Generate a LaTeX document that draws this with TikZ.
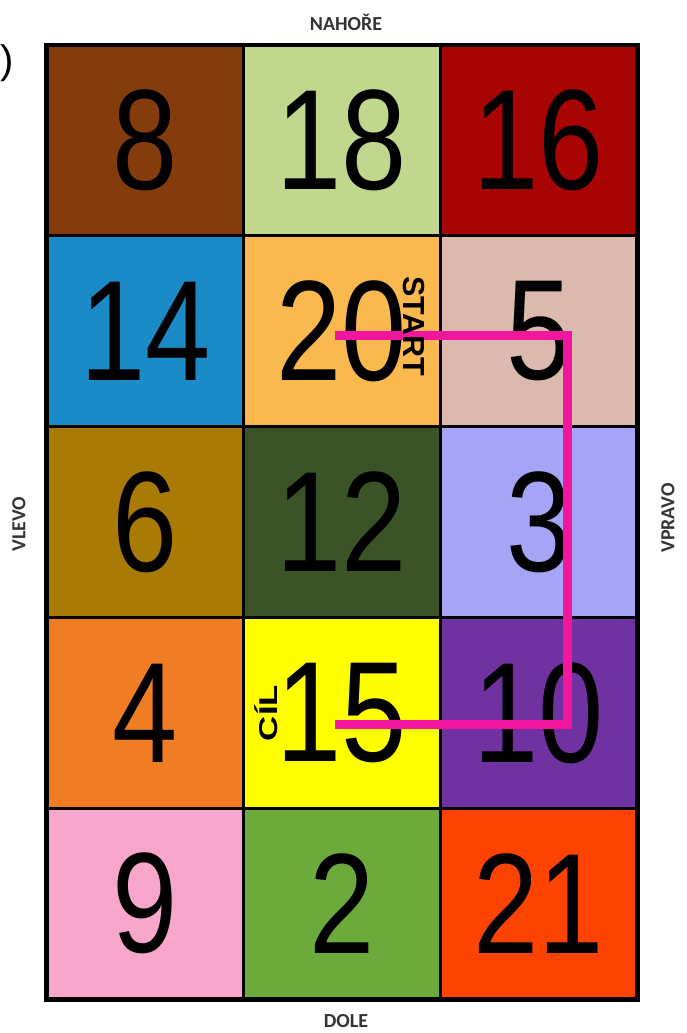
\documentclass[tikz,border=0pt]{standalone}
\usepackage{fontspec}
\setmainfont{Liberation Sans}
\newfontfamily\sidefont{Carlito}
\usepackage{graphicx}
\usepackage{tikz}
\usetikzlibrary{positioning}
\definecolor{Rust}{HTML}{843C0C}
\definecolor{Lime}{HTML}{C1D78E}
\definecolor{Wine}{HTML}{A80404}
\definecolor{Sky}{HTML}{1A8BC6}
\definecolor{Apricot}{HTML}{F9B94F}
\definecolor{Rose}{HTML}{DBB9AF}
\definecolor{Ochre}{HTML}{A97A04}
\definecolor{Forest}{HTML}{3A5427}
\definecolor{Lilac}{HTML}{A5A4F6}
\definecolor{Tangerine}{HTML}{F07D24}
\definecolor{Lemon}{HTML}{FFFF00}
\definecolor{Plum}{HTML}{7032A0}
\definecolor{Blush}{HTML}{F8A6CA}
\definecolor{Grass}{HTML}{6DAA3C}
\definecolor{Flame}{HTML}{FC4400}
\definecolor{Route}{HTML}{F2169E}
\tikzset{
 field/.style={draw=black,line width=2.6pt,outer sep=0pt,inner sep=0pt,
   minimum width=5.901cm,minimum height=5.724cm,font=\fontsize{122}{122}\selectfont},
 side/.style={font=\sidefont\bfseries\fontsize{17}{17}\selectfont,text=black!80,inner sep=0pt},
 tag/.style={font=\bfseries\fontsize{26}{26}\selectfont,inner sep=0pt},
 route/.style={draw=Route,line width=7.6pt,line join=miter}
}
\newcommand\digits[1]{\scalebox{0.82}[1]{#1}}
\begin{document}
\begin{tikzpicture}[x=0.03cm,y=-0.03cm]
\fill[white] (0,0) rectangle (686,1033);
\useasboundingbox (0,0) rectangle (686,1033);
\node[field,fill=Rust] (c8) at (145.3,140.4) {\digits{8}};
\node[field,fill=Lime,right=0pt of c8] (c18) {\digits{18}};
\node[field,fill=Wine,right=0pt of c18] (c16) {\digits{16}};
\node[field,fill=Sky,below=0pt of c8] (c14) {\digits{14}};
\node[field,fill=Apricot,below=0pt of c18] (c20) {\digits{20}};
\node[field,fill=Rose,below=0pt of c16] (c5) {\digits{5}};
\node[field,fill=Ochre,below=0pt of c14] (c6) {\digits{6}};
\node[field,fill=Forest,below=0pt of c20] (c12) {\digits{12}};
\node[field,fill=Lilac,below=0pt of c5] (c3) {\digits{3}};
\node[field,fill=Tangerine,below=0pt of c6] (c4) {\digits{4}};
\node[field,fill=Lemon,below=0pt of c12] (c15) {\digits{15}};
\node[field,fill=Plum,below=0pt of c3] (c10) {\digits{10}};
\node[field,fill=Blush,below=0pt of c4] (c9) {\digits{9}};
\node[field,fill=Grass,below=0pt of c15] (c2) {\digits{2}};
\node[field,fill=Flame,below=0pt of c10] (c21) {\digits{21}};
\draw[line width=4.2pt] (c8.north west) rectangle (c21.south east);
% path from start to goal
\draw[route] ([shift={(-7,4)}]c20.center) -| ([shift={(29,12)}]c10.center)
  -- ([shift={(-7,12)}]c15.center);
\node[tag,rotate=-90] (start) at (414,326) {START};
\node[tag,rotate=90,font=\bfseries\fontsize{22}{22}\selectfont] (goal) at (266,713) {\scalebox{1.35}[1]{CÍL}};
% sides
\node[side] (top) at (346,22) {NAHOŘE};
\node[side] (bottom) at (346,1021) {DOLE};
\node[side,rotate=90] (left) at (19,524) {VLEVO};
\node[side,rotate=90] (right) at (668,518) {VPRAVO};
\node[font=\fontsize{34}{34}\selectfont,anchor=west,inner sep=0pt] (paren) at (0,63) {)};
\end{tikzpicture}
\end{document}
